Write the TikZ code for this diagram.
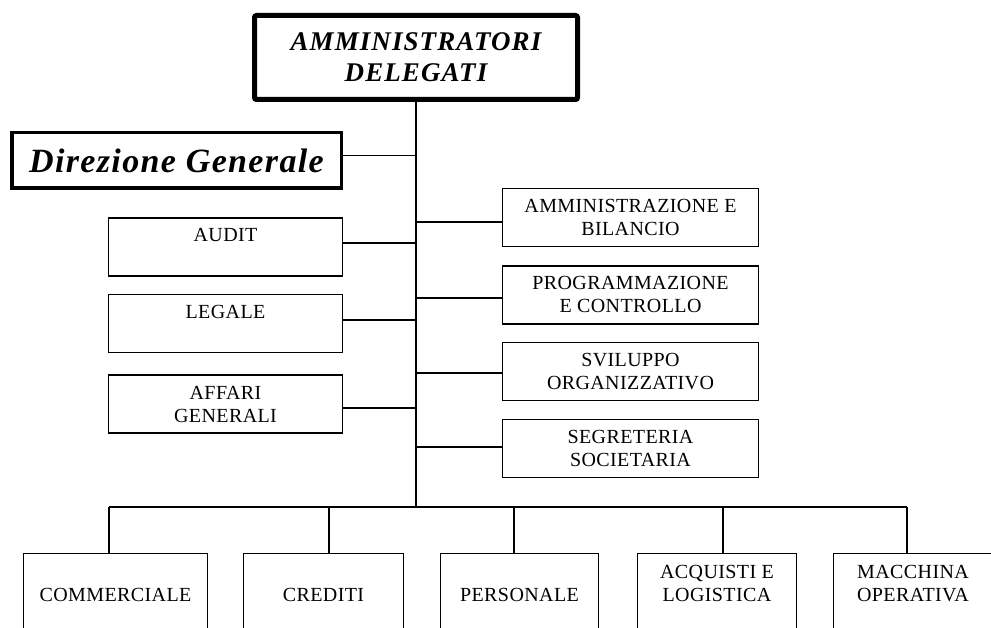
\documentclass[tikz,border=0pt]{standalone}
\usepackage{fontspec}
\setmainfont{Liberation Serif}
\newfontfamily\unitfont[LetterSpace=2]{Liberation Serif}
\newfontfamily\headfont[LetterSpace=4]{Liberation Serif}

\begin{document}
\begin{tikzpicture}[x=1pt,y=-1pt,
	unit/.style={draw,line width=1.3pt,align=center,inner sep=0pt,
		font=\unitfont\fontsize{20}{23}\selectfont,text height=36pt,text depth=0pt},
	side/.style={unit,minimum width=233.7pt,minimum height=58pt},
	staff/.style={unit,minimum width=255.7pt,minimum height=58pt},
	dept/.style={unit,anchor=north,inner ysep=12pt,text depth=87pt},
	link/.style={line width=1.3pt}]
		\useasboundingbox (0,0) rectangle (991,628);
		\clip (0,0) rectangle (991,628);
		% vertici
		\node[draw,line width=5pt,rounded corners=2pt,minimum width=323pt,minimum height=84pt,align=center,
			font=\headfont\bfseries\itshape\fontsize{27}{31}\selectfont] (ad) at (416,57.5) {AMMINISTRATORI\\DELEGATI};
		\node[draw,line width=3.5pt,minimum width=329.5pt,minimum height=55.5pt,
			font=\headfont\bfseries\itshape\fontsize{34}{38}\selectfont] (dg) at (176.5,160.5) {Direzione Generale};
		% staff a sinistra
		\node[side] (audit) at (225.5,247) {AUDIT\\\mbox{}};
		\node[side] (legale) at (225.5,323.5) {LEGALE\\\mbox{}};
		\node[side] (affari) at (225.5,404) {AFFARI\\GENERALI};
		% staff a destra
		\node[staff] (amm) at (630.5,217.5) {AMMINISTRAZIONE E\\BILANCIO};
		\node[staff] (prog) at (630.5,295) {PROGRAMMAZIONE\\E CONTROLLO};
		\node[staff] (svil) at (630.5,371.5) {SVILUPPO\\ORGANIZZATIVO};
		\node[staff] (segr) at (630.5,448.5) {SEGRETERIA\\SOCIETARIA};
		% direzioni
		\node[dept,minimum width=183.7pt] (comm) at (115.5,552.5) {\mbox{}\\COMMERCIALE};
		\node[dept,minimum width=159.7pt] (cred) at (323.5,552.5) {\mbox{}\\CREDITI};
		\node[dept,minimum width=157.7pt] (pers) at (519.5,552.5) {\mbox{}\\PERSONALE};
		\node[dept,minimum width=158.7pt] (acq) at (717,552.5) {ACQUISTI E\\LOGISTICA};
		\node[dept,minimum width=158.7pt] (macc) at (913,552.5) {MACCHINA\\OPERATIVA};
		% linea principale e bus
		\coordinate (hub) at (416,507);
		\coordinate (b1) at (109,507);
		\coordinate (b2) at (329,507);
		\coordinate (b3) at (514,507);
		\coordinate (b4) at (723,507);
		\coordinate (b5) at (907,507);
		\draw[link] (ad.south) -- (hub);
		\draw[link] (b1) -- (b5);
		\foreach \b/\n in {b1/comm,b2/cred,b3/pers,b4/acq,b5/macc}
			\draw[link] (\b) -- (\b |- \n.north);
		% rami
		\draw[link] ([yshift=5pt]dg.east) -- ([yshift=5pt]dg.east -| hub);
		\draw[link] ([yshift=4pt]audit.east) -- ([yshift=4pt]audit.east -| hub);
		\draw[link] ([yshift=3.5pt]legale.east) -- ([yshift=3.5pt]legale.east -| hub);
		\draw[link] ([yshift=-4pt]affari.east) -- ([yshift=-4pt]affari.east -| hub);
		\draw[link] ([yshift=-4.5pt]amm.west) -- ([yshift=-4.5pt]amm.west -| hub);
		\draw[link] ([yshift=-3pt]prog.west) -- ([yshift=-3pt]prog.west -| hub);
		\draw[link] ([yshift=-1.5pt]svil.west) -- ([yshift=-1.5pt]svil.west -| hub);
		\draw[link] ([yshift=1.5pt]segr.west) -- ([yshift=1.5pt]segr.west -| hub);
\end{tikzpicture}
\end{document}
